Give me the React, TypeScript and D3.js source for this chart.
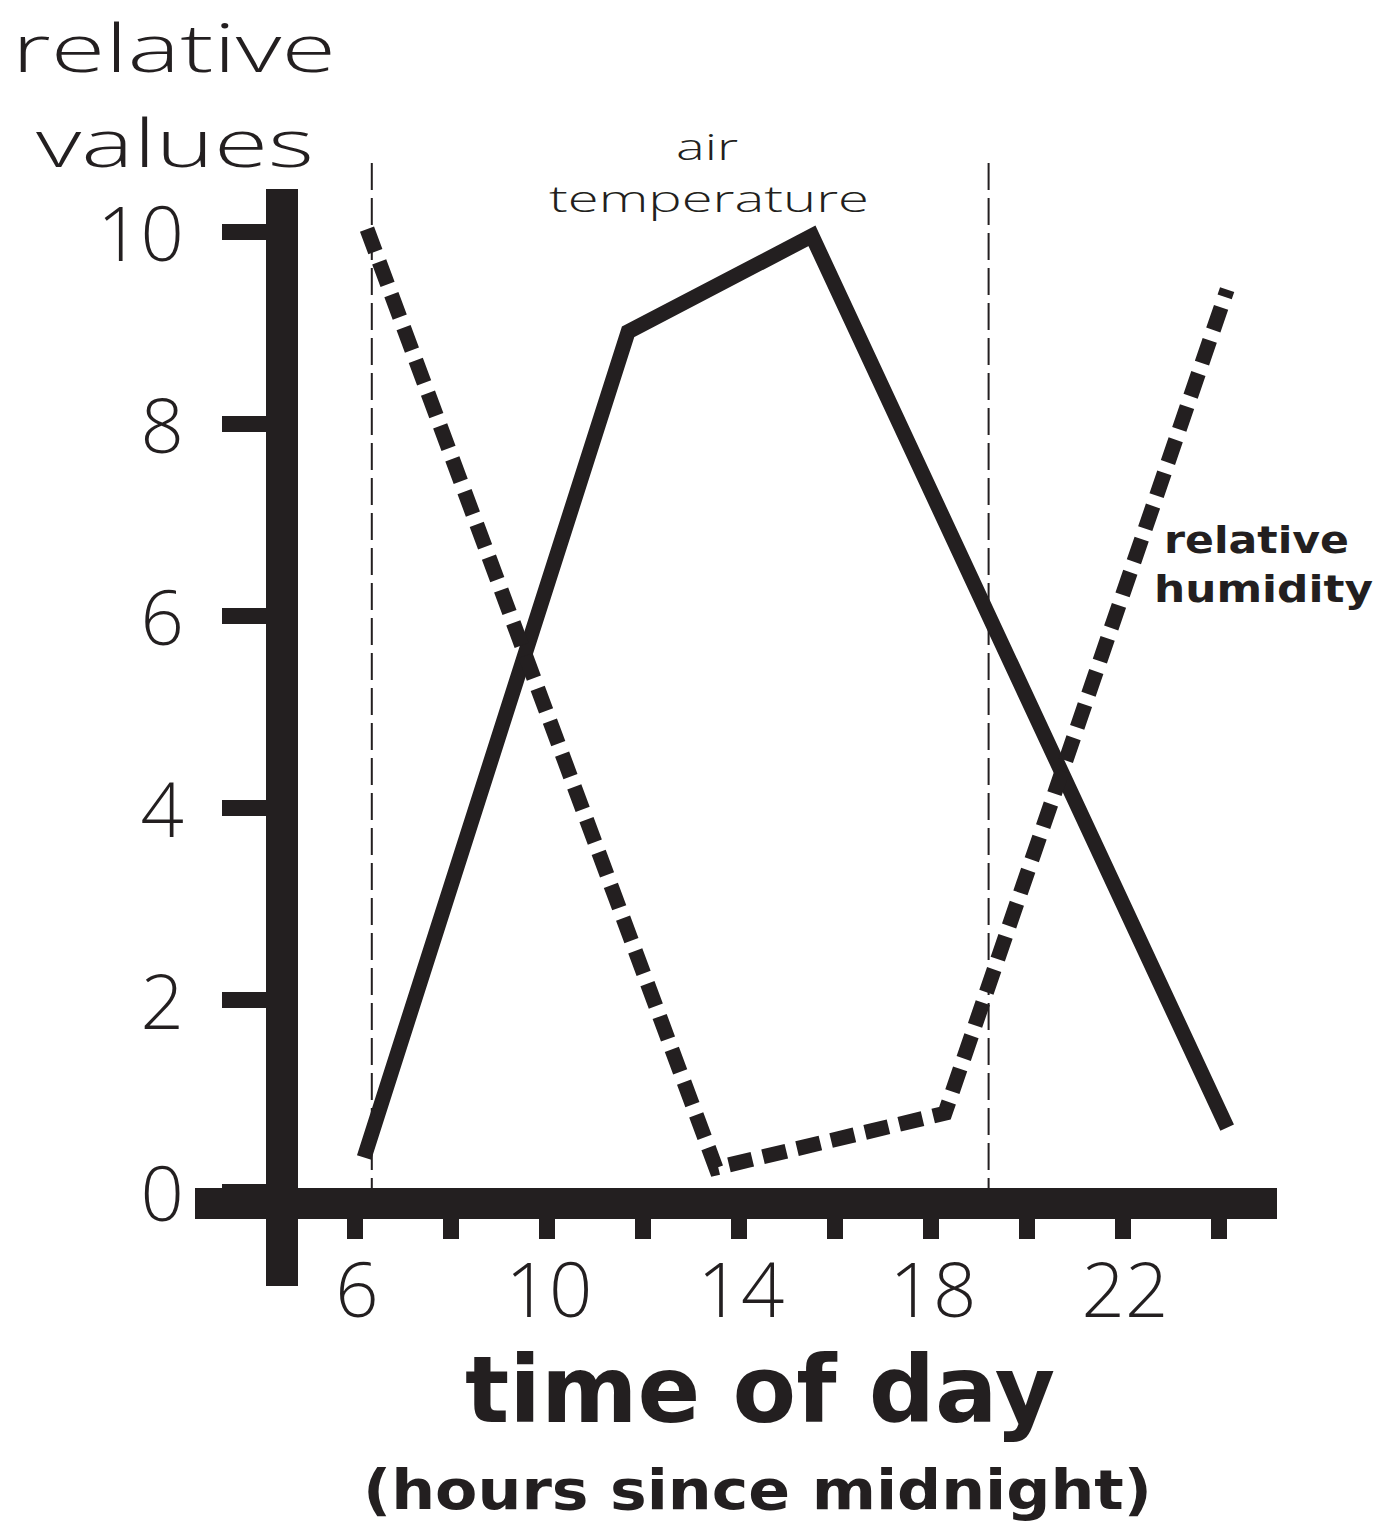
import * as d3 from "d3";

// time of day (hours since midnight) and relative values
const tempHours = [6.19, 11.69, 15.52, 24.17];
const tempValues = [0.36, 8.96, 9.96, 0.67];
const humidityHours = [6.25, 13.52, 18.29, 24.17];
const humidityValues = [10.03, 0.25, 0.82, 9.4];
const dayMarkers = [6.35, 19.2];
const xTicks = [6, 8, 10, 12, 14, 16, 18, 20, 22, 24];
const xTickLabels = [6, 10, 14, 18, 22];
const yTicks = [0, 2, 4, 6, 8, 10];

const INK = "#231f20";
const LIGHT = "'Open Sans', Lato, 'DejaVu Sans', sans-serif";
const BOLD = "'DejaVu Sans', 'Open Sans', sans-serif";

export default function App() {
  const width = 1378;
  const height = 1524;

  const x = d3.scaleLinear().domain([6, 24]).range([355, 1219]);
  const y = d3.scaleLinear().domain([0, 10]).range([1192, 232]);

  const line = d3
    .line<[number, number]>()
    .x((d) => x(d[0]))
    .y((d) => y(d[1]));

  const tempPath = line(tempHours.map((h, i) => [h, tempValues[i]]));
  const humidityPath = line(humidityHours.map((h, i) => [h, humidityValues[i]]));

  const axisTop = y(0) - 4;
  const noLig = { fontVariantLigatures: "none" } as const;

  return (
    <svg
      width={width}
      height={height}
      style={{ position: "absolute", left: 0, top: 0, background: "#fff" }}
    >
      {/* y axis title */}
      <g fontFamily={LIGHT} fontWeight={300} fill={INK} style={noLig}>
        <text x={12} y={72} fontSize={66} textLength={324} lengthAdjust="spacingAndGlyphs">
          relative
        </text>
        <text x={36} y={167} fontSize={66} textLength={278} lengthAdjust="spacingAndGlyphs">
          values
        </text>
      </g>

      {/* day markers */}
      {dayMarkers.map((h) => (
        <line
          key={h}
          x1={x(h)}
          x2={x(h)}
          y1={163}
          y2={axisTop}
          stroke={INK}
          strokeWidth={2}
          strokeDasharray="27,8"
        />
      ))}

      {/* series */}
      <path d={tempPath ?? ""} fill="none" stroke={INK} strokeWidth={15} strokeLinejoin="miter" strokeLinecap="butt" />
      <path
        d={humidityPath ?? ""}
        fill="none"
        stroke={INK}
        strokeWidth={15}
        strokeDasharray="24,11"
        strokeLinejoin="miter"
        strokeLinecap="butt"
      />

      {/* y axis */}
      <rect x={266} y={189} width={32} height={1286 - 189} fill={INK} />
      {yTicks.map((t) => (
        <g key={t}>
          <rect x={222} y={y(t) - 8} width={46} height={16} fill={INK} />
          <text
            x={184}
            y={y(t) + 29}
            textAnchor="end"
            fontFamily={LIGHT}
            fontSize={76}
            fontWeight={300}
            fill={INK}
          >
            {t}
          </text>
        </g>
      ))}

      {/* x axis */}
      <rect x={195} y={axisTop} width={1277 - 195} height={31} fill={INK} />
      {xTicks.map((t) => (
        <rect key={t} x={x(t) - 8} y={axisTop + 30} width={16} height={21} fill={INK} />
      ))}
      {xTickLabels.map((t) => (
        <text
          key={t}
          x={x(t) + 2}
          y={1317}
          textAnchor="middle"
          fontFamily={LIGHT}
          fontSize={76}
          fontWeight={300}
          fill={INK}
        >
          {t}
        </text>
      ))}

      {/* series labels */}
      <g fontFamily={LIGHT} fontWeight={300} fill={INK} fontSize={37} style={noLig}>
        <text x={676} y={160} textLength={62} lengthAdjust="spacingAndGlyphs">
          air
        </text>
        <text x={549} y={212} textLength={320} lengthAdjust="spacingAndGlyphs">
          temperature
        </text>
      </g>
      <g fontFamily={BOLD} fontWeight={700} fill={INK} fontSize={38} style={noLig}>
        <text x={1164} y={553} textLength={185} lengthAdjust="spacingAndGlyphs">
          relative
        </text>
        <text x={1154} y={602} textLength={219} lengthAdjust="spacingAndGlyphs">
          humidity
        </text>
      </g>

      {/* x axis title */}
      <g fontFamily={BOLD} fontWeight={700} fill={INK} style={noLig}>
        <text x={465} y={1422} fontSize={92} textLength={590} lengthAdjust="spacingAndGlyphs">
          time of day
        </text>
        <text x={363} y={1509} fontSize={56} textLength={789} lengthAdjust="spacingAndGlyphs">
          (hours since midnight)
        </text>
      </g>
    </svg>
  );
}
